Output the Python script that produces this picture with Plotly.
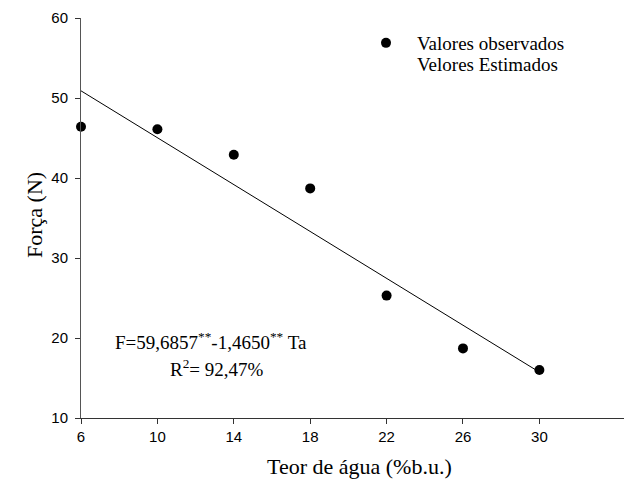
import plotly.graph_objects as go

teor = [6, 10, 14, 18, 22, 26, 30]
forca_obs = [46.4, 46.1, 42.9, 38.7, 25.3, 18.7, 16.0]
b0 = 59.6857
b1 = -1.4650
forca_est = [b0 + b1 * t for t in teor]
x_ticks = [6, 10, 14, 18, 22, 26, 30]
y_ticks = [10, 20, 30, 40, 50, 60]

W, H = 625, 486
ml, mr, mt, mb = 81, 1, 18, 68
pw, ph = W - ml - mr, H - mt - mb

def px(xp):
    return (xp - ml) / pw

def py(yp):
    return (H - mb - yp) / ph

serif = "Liberation Serif"
sans = "Liberation Sans"

fig = go.Figure()
fig.add_trace(go.Scatter(
    x=teor, y=forca_obs, mode="markers", name="Valores observados",
    marker=dict(color="black", size=10), cliponaxis=False, legend="legend"))
fig.add_trace(go.Scatter(
    x=teor, y=forca_est, mode="lines", name="Velores Estimados",
    line=dict(color="black", width=1), showlegend=False, cliponaxis=False))
fig.add_trace(go.Scatter(
    x=[None], y=[None], mode="lines", name="Velores Estimados",
    line=dict(color="rgba(0,0,0,0)", width=0), legend="legend2"))

leg_common = dict(xanchor="left", yanchor="top",
                  font=dict(family=serif, size=19, color="black"),
                  bgcolor="rgba(0,0,0,0)", itemwidth=52)

fig.update_layout(
    width=W, height=H,
    margin=dict(l=ml, r=mr, t=mt, b=mb),
    paper_bgcolor="white", plot_bgcolor="white",
    showlegend=True,
    legend=dict(x=px(355), y=py(24), **leg_common),
    legend2=dict(x=px(355), y=py(45), **leg_common),
    xaxis=dict(range=[6, 34.43], tickvals=x_ticks, ticktext=[str(v) for v in x_ticks],
               showline=True, linecolor="#333", linewidth=1, ticks="outside",
               ticklen=5, tickcolor="#333", showgrid=False, zeroline=False,
               tickfont=dict(family=sans, size=15, color="black")),
    yaxis=dict(range=[10, 60], tickvals=y_ticks,
               showline=True, linecolor="#555", linewidth=1, ticks="outside",
               ticklen=5, tickcolor="#333", showgrid=False, zeroline=False,
               ticklabelstandoff=4,
               tickfont=dict(family=sans, size=15, color="black")),
    annotations=[
        dict(text="Teor de água (%b.u.)", x=px(359), y=py(466), xref="paper", yref="paper",
             showarrow=False, xanchor="center", yanchor="middle",
             font=dict(family=serif, size=22, color="black")),
        dict(text="Força (N)", x=px(34), y=py(215), xref="paper", yref="paper",
             showarrow=False, xanchor="center", yanchor="middle", textangle=-90,
             font=dict(family=serif, size=22, color="black")),
        dict(text="F=59,6857<sup>**</sup>-1,4650<sup>**</sup> Ta", x=px(211), y=py(341),
             xref="paper", yref="paper", showarrow=False, xanchor="center", yanchor="middle",
             font=dict(family=serif, size=19, color="black")),
        dict(text="R<sup>2</sup>= 92,47%", x=px(217), y=py(367.5),
             xref="paper", yref="paper", showarrow=False, xanchor="center", yanchor="middle",
             font=dict(family=serif, size=19, color="black")),
    ],
)

fig.write_html("out.html", config={"displayModeBar": False},
               post_script="document.body.style.margin='0';")
